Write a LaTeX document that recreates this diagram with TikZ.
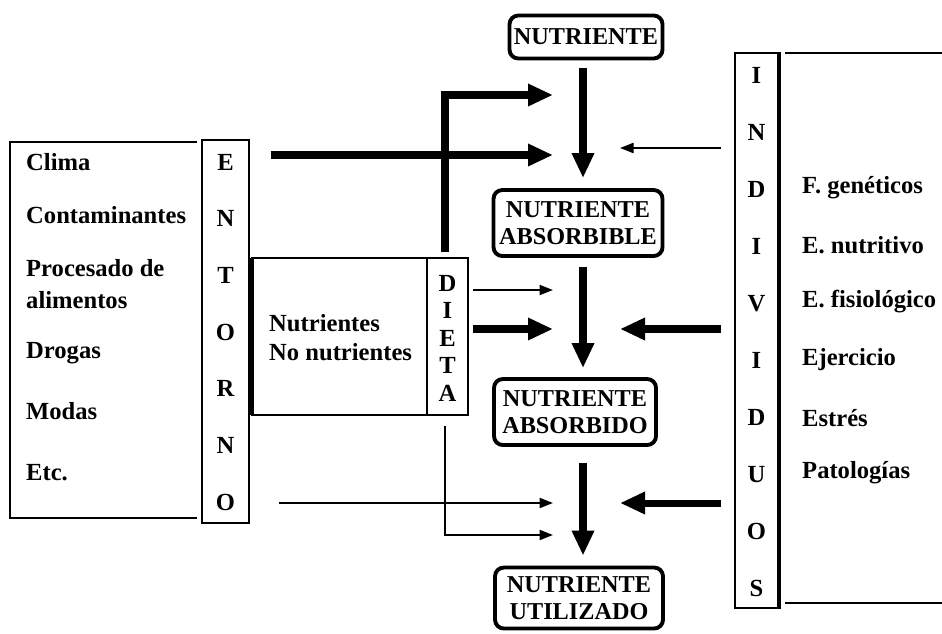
\documentclass[tikz,border=0pt]{standalone}
\usepackage{fontspec}
\setmainfont{Liberation Serif}
\usetikzlibrary{arrows.meta,positioning,calc}

\begin{document}
\begin{tikzpicture}[x=0.02cm, y=-0.02cm, font=\fontsize{14}{16}\selectfont\bfseries]
\tikzset{
  nutbox/.style={draw, line width=2.2pt, rounded corners=5pt, align=center, inner sep=2pt,
    font=\fontsize{13.8}{15.5}\selectfont\bfseries},
  column/.style={draw, line width=1.1pt, inner sep=0pt},
  frame/.style={line width=1.1pt},
  item/.style={anchor=west},
  bigarrow/.style={line width=4pt, -{Triangle[length=0.5cm, width=0.42cm]}},
  thinarrow/.style={line width=1.2pt, -{Triangle[length=0.27cm, width=0.2cm]}}
}
\useasboundingbox (0,0) rectangle (942,633);

% stages of the nutrient
\node[nutbox, minimum width=3.06cm, minimum height=0.86cm] (n0) at (586,37) {NUTRIENTE};
\node[nutbox, minimum width=3.38cm, minimum height=1.32cm] (n1) at (578,223) {NUTRIENTE\\ABSORBIBLE};
\node[nutbox, minimum width=3.24cm, minimum height=1.32cm] (n2) at (575,412) {NUTRIENTE\\ABSORBIDO};
\node[nutbox, minimum width=3.36cm, minimum height=1.22cm] (n3) at (579,598) {NUTRIENTE\\UTILIZADO};

% ENTORNO
\node[column, minimum width=0.94cm, minimum height=7.66cm] (ent) at (225.5,331.5) {};
\foreach \l [count=\i] in {E,N,T,O,R,N,O}
  \node (ent\i) at (225.5,{162+56.7*(\i-1)}) {\l};
\draw[frame] (197,142) -- (10,142) -- (10,518) -- (197,518);
\node[item] (clima) at (20,162) {Clima};
\node[item] (contam) at (20,215) {Contaminantes};
\node[item, align=left, font=\fontsize{14}{18}\selectfont\bfseries] (proc) at (20,284) {Procesado de\\alimentos};
\node[item] (drogas) at (20,353) {Drogas};
\node[item] (modas) at (20,411) {Modas};
\node[item] (etc) at (20,473) {Etc.};

% DIETA
\draw[frame] (427,258) -- (252,258) -- (252,415) -- (427,415);
\draw[line width=2.6pt] (252,258) -- (252,415);
\node[column, minimum width=0.82cm, minimum height=3.14cm] (dieta) at (447.5,336.5) {};
\foreach \l [count=\i] in {D,I,E,T,A}
  \node (diet\i) at (447.5,{283+27.5*(\i-1)}) {\l};
\node[item, align=left, font=\fontsize{14}{16.4}\selectfont\bfseries] (nutr) at (263,338) {Nutrientes\\No nutrientes};

% INDIVIDUOS
\node[column, minimum width=0.86cm, minimum height=11.1cm] (ind) at (756.5,330.5) {};
\draw[line width=2.6pt] (ind.north east) -- (ind.south east);
\foreach \l [count=\i] in {I,N,D,I,V,I,D,U,O,S}
  \node (ind\i) at (756.5,{75+57.1*(\i-1)}) {\l};
\draw[frame] (785,53) -- (942,53);
\draw[frame] (785,603) -- (942,603);
\node[item] (genet) at (796,188) {F. genéticos};
\node[item] (nutri) at (796,245) {E. nutritivo};
\node[item] (fisio) at (796,302) {E. fisiológico};
\node[item] (ejer) at (796,360) {Ejercicio};
\node[item] (estres) at (796,418) {Estrés};
\node[item] (patol) at (796,473) {Patologías};

% arrow targets
\coordinate (ax) at (583,0);
\coordinate (a1) at (553,95);
\coordinate (a2) at (553,155);
\coordinate (a3) at (553,290);
\coordinate (a4) at (553,329);
\coordinate (a5) at (553,503);
\coordinate (a6) at (553,535);
\coordinate (b1) at (620,148);
\coordinate (b2) at (620,329);
\coordinate (b3) at (620,503);

% main flow
\draw[bigarrow, shorten <=0.16cm, shorten >=0.2cm] (n0.south -| ax) -- (n1.north -| ax);
\draw[bigarrow, shorten <=0.18cm, shorten >=0.18cm] (n1.south -| ax) -- (n2.north -| ax);
\draw[bigarrow, shorten <=0.32cm, shorten >=0.2cm] (n2.south -| ax) -- (n3.north -| ax);

% influences
\draw[bigarrow, shorten <=0.42cm] (ent.east |- a2) -- (a2);
\draw[bigarrow, shorten <=0.1cm] ([xshift=-0.05cm]dieta.north) |- (a1);
\draw[thinarrow, shorten <=0.08cm] (dieta.east |- a3) -- (a3);
\draw[bigarrow, shorten <=0.08cm] (dieta.east |- a4) -- (a4);
\draw[thinarrow, shorten <=0.58cm] (ent.east |- a5) -- (a5);
\draw[thinarrow, shorten <=0.2cm] ([xshift=-0.05cm]dieta.south) |- (a6);
\draw[thinarrow, shorten <=0.26cm] (ind.west |- b1) -- (b1);
\draw[bigarrow, shorten <=0.26cm] (ind.west |- b2) -- (b2);
\draw[bigarrow, shorten <=0.26cm] (ind.west |- b3) -- (b3);
\end{tikzpicture}
\end{document}
